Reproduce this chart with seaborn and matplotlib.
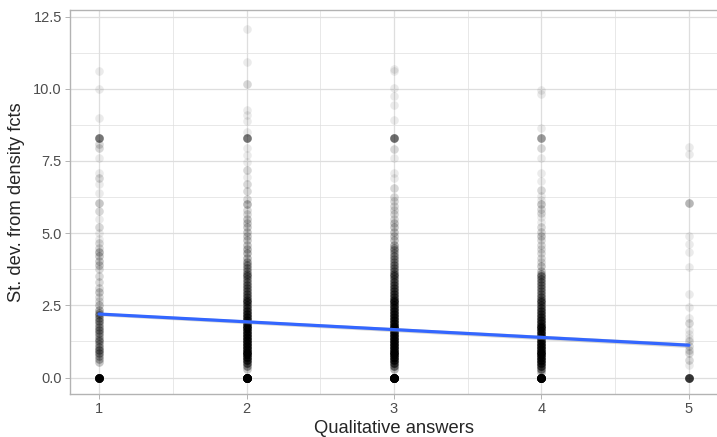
import numpy as np
import pandas as pd
import matplotlib
matplotlib.use("Agg")
import matplotlib.pyplot as plt
from matplotlib.ticker import MultipleLocator
import seaborn as sns

# values: y value and how many points sit there
q1_y = [0.0, 0.55, 0.65, 0.75, 0.85, 0.95, 1.05, 1.15, 1.25, 1.35, 1.45, 1.55, 1.65, 1.75, 1.85,
        1.95, 2.05, 2.15, 2.25, 2.35, 2.5, 2.65, 2.8, 2.95, 3.1, 3.3, 3.5, 3.75, 3.9, 4.05, 4.2,
        4.35, 4.5, 4.65, 4.8, 5.0, 5.2, 5.5, 5.77, 6.06, 6.4, 6.7, 6.9, 7.1, 7.6, 7.95, 8.1,
        8.29, 9.0, 9.98, 10.6]
q1_n = [45, 3, 4, 4, 6, 7, 5, 4, 5, 4, 4, 5, 6, 5, 4,
        6, 5, 5, 4, 4, 3, 2, 2, 3, 2, 2, 2, 2, 3, 3, 3,
        4, 2, 2, 1, 1, 2, 1, 2, 3, 1, 1, 2, 1, 1, 2, 2,
        9, 1, 1, 1]

q2_y = [0.0, 0.3, 0.4, 0.5, 0.6, 0.7, 0.8, 0.9, 1.0, 1.1, 1.2, 1.3, 1.4, 1.5, 1.6, 1.7, 1.8, 1.9,
        2.0, 2.1, 2.2, 2.3, 2.4, 2.5, 2.6, 2.7, 2.8, 2.9, 3.0, 3.1, 3.2, 3.3, 3.4, 3.5, 3.6, 3.7,
        3.8, 3.9, 4.0, 4.15, 4.3, 4.45, 4.6, 4.75, 4.9, 5.05, 5.2, 5.35, 5.5, 5.65, 5.8, 6.0,
        6.2, 6.45, 6.7, 6.95, 7.2, 7.45, 7.7, 7.95, 8.29, 8.52, 8.87, 9.1, 9.28, 10.18, 10.93,
        12.07]
q2_n = [70, 3, 6, 10, 14, 16, 17, 17, 17, 17, 17, 17, 16, 16, 15, 15, 14, 14,
        13, 13, 12, 11, 10, 9, 9, 9, 8, 8, 7, 7, 7, 6, 6, 6, 6, 5,
        5, 5, 5, 4, 4, 4, 3, 3, 3, 3, 3, 3, 3, 2, 2, 4,
        2, 2, 2, 1, 2, 1, 1, 1, 9, 1, 1, 1, 1, 2, 1,
        1]

q3_y = [0.0, 0.3, 0.4, 0.5, 0.6, 0.7, 0.8, 0.9, 1.0, 1.1, 1.2, 1.3, 1.4, 1.5, 1.6, 1.7, 1.8, 1.9,
        2.0, 2.1, 2.2, 2.3, 2.4, 2.5, 2.6, 2.7, 2.8, 2.9, 3.0, 3.1, 3.2, 3.3, 3.4, 3.5, 3.6, 3.7,
        3.8, 3.9, 4.0, 4.1, 4.2, 4.3, 4.4, 4.5, 4.6, 4.75, 4.9, 5.05, 5.2, 5.35, 5.5, 5.65, 5.8,
        5.95, 6.1, 6.25, 6.57, 6.9, 7.1, 7.6, 7.9, 8.29, 8.93, 9.44, 9.75, 10.03, 10.6, 10.7]
q3_n = [70, 4, 8, 12, 16, 18, 18, 18, 18, 18, 18, 18, 17, 17, 17, 16, 16, 15,
        15, 14, 14, 13, 13, 12, 12, 11, 10, 10, 9, 9, 8, 8, 7, 7, 7, 6,
        6, 6, 5, 5, 5, 4, 4, 4, 4, 3, 3, 3, 3, 3, 2, 2, 2,
        2, 2, 2, 2, 1, 1, 1, 2, 10, 1, 1, 1, 1, 1, 1]

q4_y = [0.0, 0.2, 0.3, 0.4, 0.5, 0.6, 0.7, 0.8, 0.9, 1.0, 1.1, 1.2, 1.3, 1.4, 1.5, 1.6, 1.7, 1.8,
        1.9, 2.0, 2.1, 2.2, 2.3, 2.4, 2.5, 2.6, 2.7, 2.8, 2.9, 3.0, 3.1, 3.2, 3.3, 3.4, 3.5, 3.6,
        3.7, 3.85, 4.0, 4.15, 4.3, 4.45, 4.6, 4.75, 4.9, 5.05, 5.2, 5.4, 5.55, 5.7, 5.85, 6.0,
        6.15, 6.3, 6.5, 6.8, 7.1, 7.6, 7.95, 8.29, 8.64, 9.83, 9.97]
q4_n = [60, 4, 8, 12, 15, 17, 17, 17, 17, 17, 17, 16, 16, 15, 15, 14, 14, 13,
        12, 12, 11, 10, 10, 9, 8, 8, 7, 7, 6, 6, 6, 6, 6, 6, 6, 4,
        3, 3, 2, 2, 2, 2, 2, 2, 3, 2, 2, 1, 1, 2, 2, 3,
        1, 1, 2, 1, 1, 1, 2, 6, 1, 1, 1]

q5_y = [0.0, 0.45, 0.62, 0.85, 0.95, 1.1, 1.25, 1.37, 1.5, 1.65, 1.9, 2.06, 2.43, 2.91, 3.83,
        4.36, 4.64, 4.91, 6.04, 7.74, 7.98]
q5_n = [18, 1, 2, 2, 2, 2, 2, 1, 1, 1, 2, 1, 1, 1, 1,
        1, 1, 1, 4, 1, 1]

# linear fit shown in the chart (with its narrow confidence band)
fit_x = [1, 5]
fit_y = [2.2, 1.12]
fit_lo = [2.14, 1.04]
fit_hi = [2.26, 1.20]

groups = [(1, q1_y, q1_n), (2, q2_y, q2_n), (3, q3_y, q3_n), (4, q4_y, q4_n), (5, q5_y, q5_n)]
rows = []
for q, ys, ns in groups:
    for y, n in zip(ys, ns):
        rows += [(q, y)] * n
df = pd.DataFrame(rows, columns=["answer", "sd"])
fit = pd.DataFrame({"answer": fit_x, "sd": fit_y})

sns.set_style("white")
plt.rcParams["font.family"] = ["Liberation Sans", "DejaVu Sans"]

fig = plt.figure(figsize=(7.17, 4.37), dpi=100)
ax = fig.add_axes([0.097, 0.0984, 0.905, 0.8788])

grid_col = "#DEDEDE"
ax.xaxis.set_major_locator(MultipleLocator(1))
ax.xaxis.set_minor_locator(MultipleLocator(0.5))
ax.yaxis.set_major_locator(MultipleLocator(2.5))
ax.yaxis.set_minor_locator(MultipleLocator(1.25))
ax.grid(which="major", color=grid_col, linewidth=0.9)
ax.grid(which="minor", color=grid_col, linewidth=0.5)
ax.set_axisbelow(True)

sns.scatterplot(data=df, x="answer", y="sd", color="black", alpha=0.08, s=38,
                linewidth=0, ax=ax)
ax.fill_between(fit_x, fit_lo, fit_hi, color="#999999", alpha=0.4, linewidth=0, zorder=3)
sns.lineplot(data=fit, x="answer", y="sd", color="#3366FF", linewidth=2.3, ax=ax, zorder=4)

ax.set_xlim(0.8, 5.2)
ax.set_ylim(-0.57, 12.73)
ax.set_yticks([0, 2.5, 5, 7.5, 10, 12.5])
ax.set_yticklabels(["0.0", "2.5", "5.0", "7.5", "10.0", "12.5"])

for side in ["top", "bottom", "left", "right"]:
    ax.spines[side].set_color("#B3B3B3")
    ax.spines[side].set_linewidth(1.0)
ax.spines["right"].set_visible(False)

ax.tick_params(which="major", length=3.5, width=0.7, color="#B3B3B3", labelsize=10.5,
               labelcolor="#4D4D4D", pad=2, left=True, bottom=True)
ax.tick_params(which="minor", length=0)

ax.set_xlabel("Qualitative answers", fontsize=13.2, labelpad=3)
ax.set_ylabel("St. dev. from density fcts", fontsize=13.2, labelpad=6)

fig.savefig("out.png", dpi=100)
